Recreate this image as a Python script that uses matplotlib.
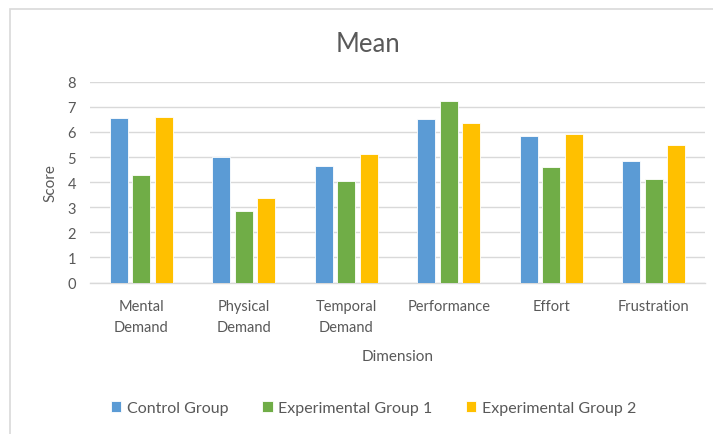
# ==========================================================
# MEAN SCORES BY DIMENSION
# ==========================================================

import numpy as np
import matplotlib
matplotlib.use("Agg")
import matplotlib.pyplot as plt
from matplotlib.patches import Rectangle

# ==========================================================
# DATA
# ==========================================================

dimensions = [
    "Mental\nDemand",
    "Physical\nDemand",
    "Temporal\nDemand",
    "Performance",
    "Effort",
    "Frustration"
]

control_group = [6.55, 5.01, 4.65, 6.51, 5.84, 4.83]
experimental_group_1 = [4.29, 2.87, 4.06, 7.22, 4.61, 4.12]
experimental_group_2 = [6.61, 3.35, 5.13, 6.37, 5.91, 5.48]

series_names = ["Control Group", "Experimental Group 1", "Experimental Group 2"]
series_colors = ["#5B9BD5", "#70AD47", "#FFC000"]

# ==========================================================
# STYLE
# ==========================================================

plt.rcParams["font.family"] = ["Lato", "DejaVu Sans"]
TEXT_COLOR = "#595959"

# ==========================================================
# FIGURE
# ==========================================================

fig = plt.figure(figsize=(7.13, 4.35), dpi=100)
fig.patch.set_facecolor("white")

# chart border (starts inside the image, runs off right/bottom)
fig.add_artist(Rectangle(
    (10 / 713, -0.05), 1.1, 1 - 9.5 / 435 + 0.05,
    transform=fig.transFigure,
    fill=False,
    edgecolor="#D9D9D9",
    linewidth=1.2
))

ax = fig.add_axes([0.126, 0.348, 0.863, 0.462])

x = np.arange(len(dimensions))
width = 0.175
offset = 0.22

all_series = [control_group, experimental_group_1, experimental_group_2]

for i, values in enumerate(all_series):
    ax.bar(
        x + (i - 1) * offset,
        values,
        width=width,
        color=series_colors[i],
        edgecolor="white",
        linewidth=0.6,
        label=series_names[i],
        zorder=3
    )

ax.set_xlim(-0.5, len(dimensions) - 0.5)
ax.set_ylim(0, 8)
ax.set_yticks(range(0, 9))
ax.yaxis.grid(True, color="#D9D9D9", linewidth=1.0, zorder=0)
ax.set_axisbelow(True)

for side in ["top", "right", "left"]:
    ax.spines[side].set_visible(False)
ax.spines["bottom"].set_color("#D9D9D9")
ax.spines["bottom"].set_linewidth(1.0)

ax.tick_params(axis="both", length=0, colors=TEXT_COLOR, labelsize=10.5)
ax.tick_params(axis="y", pad=10)
ax.tick_params(axis="x", pad=12)
ax.set_xticks(x)
ax.set_xticklabels(dimensions, linespacing=1.6)

ax.set_ylabel("Score", color=TEXT_COLOR, fontsize=11, labelpad=7)
ax.set_xlabel("Dimension", color=TEXT_COLOR, fontsize=11, labelpad=11)

fig.text(0.516, 0.897, "Mean", ha="center", va="center",
         color=TEXT_COLOR, fontsize=18.5)

fig.legend(
    loc="center",
    bbox_to_anchor=(0.524, 0.06),
    ncol=3,
    frameon=False,
    fontsize=11.5,
    labelcolor=TEXT_COLOR,
    handlelength=0.65,
    handleheight=0.65,
    handletextpad=0.35,
    columnspacing=2.1
)

fig.savefig("out.png", dpi=100)
